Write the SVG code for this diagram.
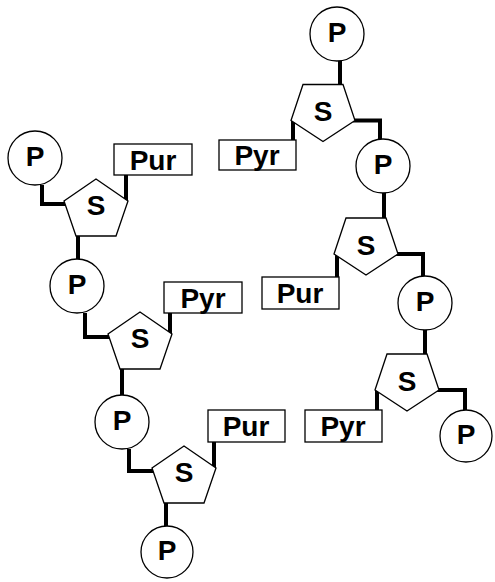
<svg xmlns="http://www.w3.org/2000/svg" width="495" height="582" viewBox="0 0 495 582">
<style>
.c{fill:#fff;stroke:#000;stroke-width:1.3}
.l{fill:none;stroke:#000;stroke-width:4;stroke-linecap:butt;stroke-linejoin:miter}
text{font-family:"Liberation Sans",Arial,sans-serif;font-weight:bold;font-size:28px;fill:#000;text-anchor:middle}
</style>
<rect width="495" height="582" fill="#fff"/>
<g id="connectors">
<path class="l" d="M42,185 V204 H66"/>
<path class="l" d="M126,201 V175"/>
<path class="l" d="M78,236 V259"/>
<path class="l" d="M85,313 V337 H110"/>
<path class="l" d="M170,334 V313"/>
<path class="l" d="M122,369 V395"/>
<path class="l" d="M129,449 V471 H154"/>
<path class="l" d="M214,468 V442"/>
<path class="l" d="M166,503 V526"/>
<path class="l" d="M340,61 V85"/>
<path class="l" d="M293,120 V140"/>
<path class="l" d="M353,120.5 H380 V139"/>
<path class="l" d="M384,193 V218"/>
<path class="l" d="M337,254 V277"/>
<path class="l" d="M396,254 H423 V276"/>
<path class="l" d="M425,330 V354"/>
<path class="l" d="M377,390 V410"/>
<path class="l" d="M437,390 H465 V410"/>
</g>
<g id="p1"><circle class="c" cx="35" cy="158" r="27"/><text x="35" y="166">P</text></g>
<g id="s1"><polygon class="c" points="96,179 128,201 116,236 76,236 64,201"/><text x="96" y="215">S</text></g>
<g id="b1"><rect class="c" x="114" y="144" width="78" height="31"/><text x="153" y="169.5">Pur</text></g>
<g id="p2"><circle class="c" cx="77" cy="286" r="27"/><text x="77" y="294">P</text></g>
<g id="s2"><polygon class="c" points="140,312 172,334 160,369 120,369 108,334"/><text x="140" y="348">S</text></g>
<g id="b2"><rect class="c" x="164" y="282" width="78" height="31"/><text x="203" y="307.5">Pyr</text></g>
<g id="p3"><circle class="c" cx="122" cy="422" r="27"/><text x="122" y="430">P</text></g>
<g id="s3"><polygon class="c" points="184,446 216,468 204,503 164,503 152,468"/><text x="184" y="482">S</text></g>
<g id="b3"><rect class="c" x="208" y="410" width="77" height="32"/><text x="246" y="436">Pur</text></g>
<g id="p4"><circle class="c" cx="167" cy="552" r="26"/><text x="167" y="560">P</text></g>
<g id="p5"><circle class="c" cx="337" cy="34" r="27"/><text x="337" y="42">P</text></g>
<g id="s4"><polygon class="c" points="303,84.5 343,84.5 355,120.5 323,141.5 291,120.5"/><text x="323" y="121">S</text></g>
<g id="b4"><rect class="c" x="219" y="140" width="77" height="30"/><text x="257" y="165">Pyr</text></g>
<g id="p6"><circle class="c" cx="383" cy="166" r="27"/><text x="383" y="174">P</text></g>
<g id="s5"><polygon class="c" points="346,218 386,218 398,254 366,275 334,254"/><text x="366" y="254.5">S</text></g>
<g id="b5"><rect class="c" x="262" y="277" width="77" height="32"/><text x="300" y="303">Pur</text></g>
<g id="p7"><circle class="c" cx="425" cy="303" r="27"/><text x="425" y="311">P</text></g>
<g id="s6"><polygon class="c" points="387,354 427,354 439,390 407,411 375,390"/><text x="407" y="390.5">S</text></g>
<g id="b6"><rect class="c" x="305" y="410" width="77" height="32"/><text x="343" y="436">Pyr</text></g>
<g id="p8"><circle class="c" cx="466" cy="436" r="26"/><text x="466" y="444">P</text></g>
</svg>
